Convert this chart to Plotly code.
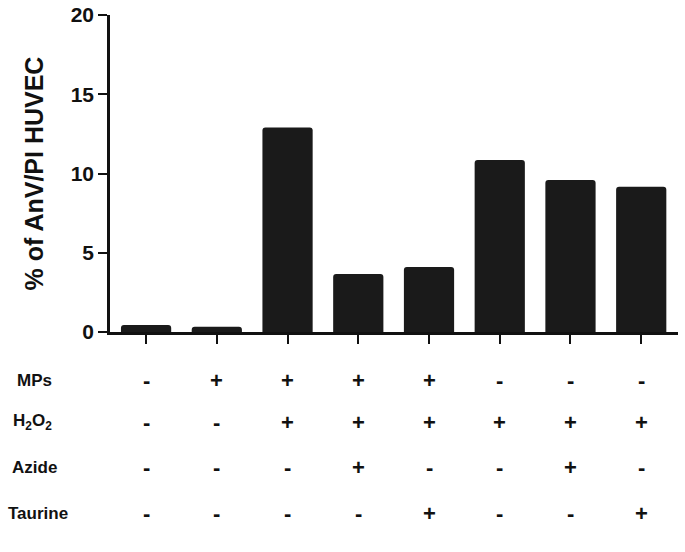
import plotly.graph_objects as go

groups = [1, 2, 3, 4, 5, 6, 7, 8]
values = [0.44, 0.33, 12.9, 3.66, 4.1, 10.85, 9.59, 9.17]

row_labels = ["MPs", "H<sub>2</sub>O<sub>2</sub>", "Azide", "Taurine"]
mps     = ["-", "+", "+", "+", "+", "-", "-", "-"]
h2o2    = ["-", "-", "+", "+", "+", "+", "+", "+"]
azide   = ["-", "-", "-", "+", "-", "-", "+", "-"]
taurine = ["-", "-", "-", "-", "+", "-", "-", "+"]
rows = [mps, h2o2, azide, taurine]

FONT = "Liberation Sans, Arial, sans-serif"
INK = "#111111"
fig = go.Figure()
fig.add_trace(go.Bar(
    x=list(range(len(groups))), y=values,
    marker=dict(color="#1a1a1a", line=dict(width=0), cornerradius=3),
    width=0.71,
))

# paper y for rows: (332 - screen_y) / 317
row_y = [-0.153, -0.284, -0.429, -0.574]
label_x = [-0.1334, -0.137, -0.1334, -0.127]
for lbl, ry, lx, row in zip(row_labels, row_y, label_x, rows):
    fig.add_annotation(text=lbl, xref="paper", yref="paper",
                       x=lx, y=ry, xanchor="center", yanchor="middle",
                       showarrow=False,
                       font=dict(family=FONT, size=17, color=INK, weight="bold"))
    for i, s in enumerate(row):
        fig.add_annotation(text=s, xref="x", yref="paper", x=i, y=ry,
                           xanchor="center", yanchor="middle", showarrow=False,
                           font=dict(family=FONT, size=22, color=INK, weight="bold"))

fig.add_annotation(text="% of AnV/PI HUVEC", xref="paper", yref="paper",
                   x=-0.134, y=0.5, xanchor="center", yanchor="middle",
                   textangle=-90, showarrow=False,
                   font=dict(family=FONT, size=25, color=INK, weight="bold"))

fig.update_layout(
    width=685, height=552,
    margin=dict(l=110, r=7, t=15, b=220, autoexpand=False),
    paper_bgcolor="white", plot_bgcolor="white",
    showlegend=False,
    font=dict(family=FONT, color=INK),
)
fig.update_xaxes(range=[-0.51, 7.52], showticklabels=False, ticks="outside",
                 ticklen=9, tickwidth=2, tickcolor=INK,
                 tickvals=list(range(len(groups))),
                 showline=True, linewidth=2.5, linecolor=INK,
                 showgrid=False, zeroline=False, fixedrange=True)
fig.update_yaxes(range=[0, 20], tickvals=[0, 5, 10, 15, 20], ticks="outside",
                 ticklen=9, tickwidth=2, tickcolor=INK,
                 tickfont=dict(family=FONT, size=21, color=INK, weight="bold"),
                 showline=True, linewidth=2.5, linecolor=INK,
                 showgrid=False, zeroline=False)

fig.write_html("out.html", config={"displayModeBar": False},
               post_script="document.body.style.margin='0';")
